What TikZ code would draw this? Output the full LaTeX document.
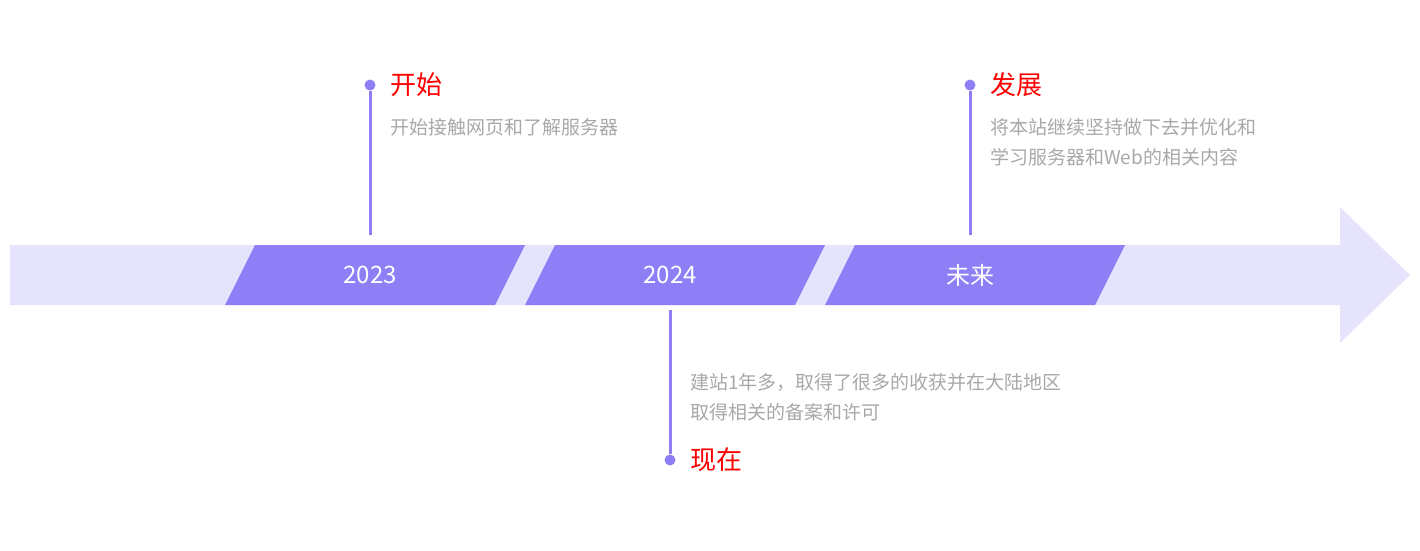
\documentclass[tikz,border=0pt]{standalone}
\usepackage{fontspec}
\newfontfamily\cjk{Noto Sans CJK SC}
\usetikzlibrary{positioning}
\definecolor{bandcolor}{HTML}{E6E3FC}
\definecolor{yearcolor}{HTML}{8F7FF7}
\definecolor{desccolor}{HTML}{A8A8A8}
\tikzset{
  yeartext/.style={text=white,font=\cjk\fontsize{24}{28}\selectfont},
  dot/.style={circle,fill=yearcolor,inner sep=0pt,minimum size=11pt},
  stem/.style={yearcolor,line width=3pt},
  title/.style={anchor=west,text=red,font=\cjk\fontsize{26}{30}\selectfont,inner sep=0pt},
  desc/.style={anchor=north west,text=desccolor,align=left,inner sep=0pt,
    font=\cjk\fontsize{19}{30}\selectfont}
}
\begin{document}
\begin{tikzpicture}[x=1pt,y=-1pt]
\useasboundingbox (0,0) rectangle (1420,550);

% Bande et flèche
\fill[bandcolor] (10,245) -- (1340,245) -- (1340,207) -- (1410,275)
  -- (1340,343) -- (1340,305) -- (10,305) -- cycle;

% Années
\foreach \x/\lab/\nm in {0/2023/a,300/2024/b,600/未来/c}{
  \fill[yearcolor] (225+\x,305) -- (255+\x,245) -- (525+\x,245) -- (495+\x,305) -- cycle;
  \node[yeartext] (\nm) at (370+\x,275) {\lab};
}

% Début
\node[dot] (dotA) at (370,85) {};
\coordinate (endA) at (370,235);
\draw[stem] (dotA) -- (endA);
\node[title] (titleA) at (390,85) {开始};
\node[desc] (descA) at (390,118) {开始接触网页和了解服务器};

% Présent
\node[dot] (dotB) at (670,460) {};
\coordinate (endB) at (670,310);
\draw[stem] (dotB) -- (endB);
\node[title] (titleB) at (690,460) {现在};
\node[desc] (descB) at (690,373) {建站1年多，取得了很多的收获并在大陆地区\\取得相关的备案和许可};

% Futur
\node[dot] (dotC) at (970,85) {};
\coordinate (endC) at (970,235);
\draw[stem] (dotC) -- (endC);
\node[title] (titleC) at (990,85) {发展};
\node[desc] (descC) at (990,118) {将本站继续坚持做下去并优化和\\学习服务器和Web的相关内容};

\end{tikzpicture}
\end{document}
